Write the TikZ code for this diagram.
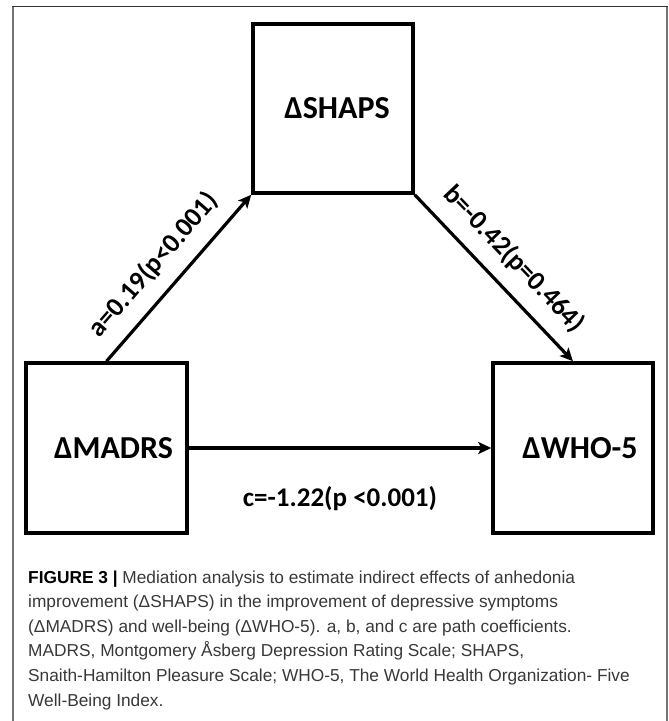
\documentclass[tikz,border=0pt]{standalone}
\usepackage{fontspec}
\setmainfont{Carlito}
\newfontfamily\capfont{Liberation Sans}
\usetikzlibrary{arrows.meta}
\definecolor{captxt}{rgb}{0.22,0.22,0.22}
\definecolor{framegray}{rgb}{0.45,0.45,0.45}
\definecolor{frametop}{rgb}{0.2,0.2,0.2}
\tikzset{
  varbox/.style={draw=black, line width=3.5pt, rectangle, minimum height=170pt, inner sep=0pt,
    font=\fontsize{32}{36}\selectfont\bfseries},
  patharrow/.style={line width=3.2pt, -{Stealth[length=13pt,width=12pt,inset=3pt]}},
  coef/.style={font=\fontsize{27}{30}\selectfont\bfseries, inner sep=0pt},
  capline/.style={anchor=base west, inner sep=0pt, text=captxt, font=\capfont\fontsize{17.3}{20}\selectfont}
}
\begin{document}
\begin{tikzpicture}[x=1pt,y=-1pt]
\useasboundingbox (0,0) rectangle (669,721);
% frame
\draw[framegray, line width=1.5pt] (13,721) -- (13,6.5);
\draw[framegray, line width=1.5pt] (667,721) -- (667,6.5);
\draw[frametop, line width=1.5pt] (12.25,6.5) -- (667.75,6.5);
% boxes
\node[varbox, minimum width=160pt, minimum height=169pt] (shaps) at (333,108.5) {\hspace*{8pt}ΔSHAPS};
\node[varbox, minimum width=161pt] (madrs) at (106.5,448) {\hspace*{14pt}ΔMADRS};
\node[varbox, minimum width=160pt] (who) at (573,448) {\hspace*{14pt}ΔWHO-5};
% paths
\draw[patharrow] (madrs.north) -- node[coef, sloped, pos=0.47, above=14pt] {a=0.19(p<0.001)} (shaps.south west);
\draw[patharrow] (shaps.south east) -- node[coef, sloped, pos=0.5, above=14pt] {b=-0.42(p=0.464)} (who.north);
\draw[patharrow] (madrs.east) -- node[coef, below=37pt] {c=-1.22(p <0.001)} (who.west);
% caption
\node[capline] (cap1) at (28,583) {\textcolor{black}{\bfseries FIGURE 3 |} Mediation analysis to estimate indirect effects of anhedonia};
\node[capline] (cap2) at (28,607.6) {improvement (ΔSHAPS) in the improvement of depressive symptoms};
\node[capline] (cap3) at (28,632.2) {(ΔMADRS) and well-being (ΔWHO-5). a, b, and c are path coefficients.};
\node[capline] (cap4) at (28,656.8) {MADRS, Montgomery Åsberg Depression Rating Scale; SHAPS,};
\node[capline] (cap5) at (28,681.4) {Snaith-Hamilton Pleasure Scale; WHO-5, The World Health Organization- Five};
\node[capline] (cap6) at (28,706) {Well-Being Index.};
\end{tikzpicture}
\end{document}
